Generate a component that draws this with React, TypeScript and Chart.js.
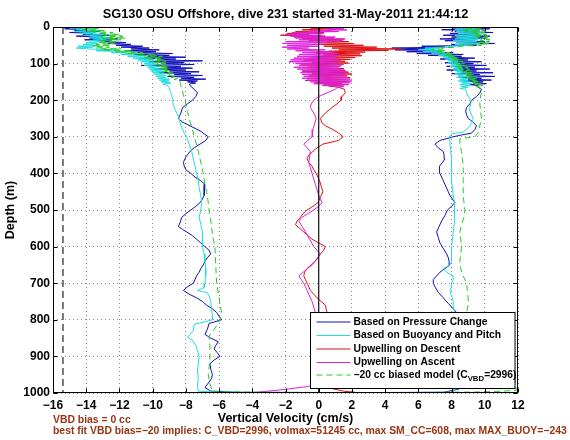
import React, { useEffect, useRef } from 'react';
import { Chart, registerables } from 'chart.js';
Chart.register(...registerables);

type P = [number, number]; // [depth (m), vertical velocity (cm/s)]

const titleText = 'SG130 OSU Offshore, dive 231 started 31-May-2011 21:44:12';
const xAxisTitle = 'Vertical Velocity (cm/s)';
const yAxisTitle = 'Depth (m)';
const noteLines = [
  'VBD bias = 0 cc',
  'best fit VBD bias=\u221220 implies: C_VBD=2996, volmax=51245 cc, max SM_CC=608, max MAX_BUOY=\u2212243',
];
const velocityRange = [-16, 12];
const velocityStep = 2;
const depthRange = [0, 1000];
const depthStep = 100;
const biasLineVelocity = -15.4;
const zeroLineVelocity = 0;

const legendLabels = [
  'Based on Pressure Change',
  'Based on Buoyancy and Pitch',
  'Upwelling on Descent',
  'Upwelling on Ascent',
];
const modelLegendParts = ['\u221220 cc biased model (C', 'VBD', '=2996)'];

const pressureChange: P[] = [
  [0.5,-15.9],[2.5,-13.8],[5,-15.3],[7.5,-14.0],[10,-14.7],[12.5,-13.2],[15,-15.0],[17.5,-13.6],[20,-14.2],[22.5,-12.6],[25,-14.6],[27.5,-13.1],[30,-13.8],[32.5,-12.1],[35,-14.1],[37.5,-12.5],[40,-13.1],[42.5,-11.6],[45,-12.7],[47.5,-11.3],[50,-12.2],[52.5,-10.6],[55,-11.9],[57.5,-10.2],[60,-11.3],[62.5,-9.6],[65,-11.6],[67.5,-9.8],[70,-10.9],[72.5,-8.8],[75,-11.1],[77.5,-9.0],[80,-10.3],[82.5,-8.0],[85,-10.8],[87.5,-8.6],[90,-9.7],[92.5,-7.0],[95,-10.2],[97.5,-8.1],[100,-9.4],[102.5,-7.5],[105,-10.7],[107.5,-8.3],[110,-9.2],[112.5,-7.6],[115,-9.9],[117.5,-8.0],[120,-9.0],[122.5,-7.2],[125,-9.6],[127.5,-7.7],[130,-8.7],[132.5,-7.0],[135,-9.1],[137.5,-7.5],[140,-8.3],[142.5,-6.8],[145,-8.4],[147.5,-7.3],[150,-7.9],[153,-7.4],[156,-7.8],[160,-7.75],
  [170,-7.5],[180,-7.3],[190,-7.4],[200,-7.6],[210,-7.9],[220,-8.2],[235,-8.3],[250,-8.45],[260,-8.2],[270,-7.75],[285,-7.1],[300,-6.65],[310,-6.8],[320,-7.15],[330,-7.5],[340,-7.75],[355,-8.0],[370,-8.15],[380,-8.1],[390,-8.0],[400,-7.7],[410,-7.45],[420,-7.1],[430,-6.85],[445,-6.9],[460,-6.9],[470,-7.0],[480,-7.15],[490,-7.4],[500,-7.7],[510,-8.0],[520,-8.25],[535,-8.35],[545,-8.45],[553,-8.2],[560,-7.95],[570,-7.6],[580,-7.35],[590,-7.1],[600,-6.85],[610,-6.6],[620,-6.5],[630,-6.7],[640,-6.85],[650,-6.95],[660,-7.1],[670,-7.2],[680,-7.35],[690,-7.45],[700,-7.55],[710,-7.9],[720,-8.15],[730,-7.8],[740,-7.35],[750,-7.0],[760,-6.75],[770,-6.4],[780,-6.15],[790,-6.0],[800,-5.85],[810,-6.6],[825,-6.7],[840,-6.85],[850,-6.5],[860,-6.05],[870,-6.2],[880,-6.3],[890,-6.1],[900,-5.95],[910,-6.3],[920,-6.55],[935,-6.5],[950,-6.4],[960,-6.45],[970,-6.6],[985,-6.85],[995,-6.5],
  [998,-5.0],[999,2.0],[998,7.5],[990,8.4],[970,8.5],[940,8.3],[900,8.1],[860,7.8],[820,8.2],[800,8.4],[790,8.35],
  [780,8.3],[770,8.1],[755,7.8],[740,7.5],[725,7.2],[710,7.0],[700,6.9],[690,6.9],[680,7.1],[670,7.3],[660,7.6],[650,7.9],[640,7.85],[630,7.8],[620,7.7],[605,7.5],[590,7.3],[575,7.2],[560,7.1],[545,7.25],[530,7.4],[515,7.6],[500,7.75],[490,8.0],[480,8.2],[470,8.05],[460,7.9],[450,7.8],[440,7.7],[430,7.6],[420,7.5],[410,7.4],[400,7.3],[390,7.25],[380,7.3],[370,7.45],[360,7.6],[350,7.55],[340,7.5],[330,7.2],[320,7.0],[310,7.3],[300,8.1],[295,8.6],[290,9.2],[280,9.4],[270,9.5],[260,9.3],[250,9.0],[240,8.9],[230,8.85],[220,8.9],[210,9.1],[200,9.2],[190,9.5],[180,9.7],[170,9.8],[165,9.6],
  [160,9.6],[157.5,9.1],[155,10.1],[152.5,9.3],[150,9.9],[147.5,8.7],[145,10.4],[142.5,9.0],[140,9.8],[137.5,8.4],[135,10.6],[132.5,8.9],[130,9.7],[127.5,8.0],[125,10.5],[122.5,8.6],[120,9.5],[117.5,7.7],[115,10.3],[112.5,8.3],[110,9.4],[107.5,7.7],[105,10.1],[102.5,8.4],[100,9.3],[97.5,7.6],[95,9.8],[92.5,8.0],[90,9.0],[87.5,7.3],[85,9.4],[82.5,7.8],[80,8.6],[77.5,6.6],[75,8.7],[72.5,5.9],[70,8.1],[67.5,5.3],[65,7.4],[62.5,4.6],[60,6.8],[57.5,4.4],[55,7.6],[52.5,6.2],[50,9.5],[47.5,8.0],[45,10.6],[42.5,8.3],[40,10.0],[37.5,7.6],[35,9.4],[32.5,7.3],[30,10.1],[27.5,8.0],[25,10.3],[22.5,7.5],[20,9.6],[17.5,7.9],[15,10.5],[12.5,8.2],[10,9.7],[7.5,7.4],[5,10.3],[2.5,8.0],[0,9.0],
];

const buoyancyPitch: P[] = [
  [0,-13.5],[2.5,-15.0],[5,-13.6],[7.5,-14.6],[10,-13.2],[12.5,-14.7],[15,-13.4],[17.5,-14.3],[20,-12.7],[22.5,-14.1],[25,-13.0],[27.5,-13.8],[30,-12.4],[32.5,-13.6],[35,-12.8],[37.5,-13.8],[40,-12.9],[42.5,-14.0],[45,-13.3],[47.5,-14.2],[50,-13.2],[52.5,-14.5],[55,-13.6],[57.5,-14.6],[60,-13.8],[62.5,-12.2],[65,-13.4],[67.5,-11.4],[70,-12.5],[72.5,-10.9],[75,-11.9],[77.5,-10.6],[80,-11.5],[82.5,-10.3],[85,-11.2],[87.5,-10.0],[90,-10.9],[92.5,-9.9],[95,-10.7],[97.5,-9.8],[100,-10.5],[102.5,-9.7],[105,-10.5],[107.5,-9.6],[110,-10.3],[112.5,-9.6],[115,-10.2],[117.5,-9.4],[120,-10.1],[122.5,-9.3],[125,-10.0],[127.5,-9.3],[130,-9.9],[132.5,-9.2],[135,-9.8],[137.5,-9.2],[140,-9.7],[142.5,-9.0],[145,-9.6],[147.5,-9.0],[150,-9.5],[153,-8.9],[156,-9.4],[160,-9.1],[165,-9.0],
  [175,-8.95],[185,-8.85],[200,-8.8],[215,-8.75],[230,-8.6],[250,-8.4],[270,-8.3],[290,-8.1],[300,-7.95],[320,-7.8],[340,-7.65],[350,-7.6],[370,-7.5],[390,-7.4],[400,-7.35],[420,-7.25],[440,-7.2],[460,-7.1],[480,-7.05],[500,-7.1],[520,-7.2],[540,-7.1],[560,-7.0],[580,-7.0],[600,-7.0],[620,-6.9],[640,-6.85],[660,-6.8],[680,-6.8],[700,-6.85],[712,-6.9],[720,-7.3],[726,-6.7],[735,-6.6],[750,-6.5],[770,-6.45],[790,-6.4],[800,-6.4],[806,-6.9],[812,-7.5],[830,-7.55],[840,-7.75],[848,-7.9],[856,-7.6],[870,-7.4],[885,-7.3],[900,-7.2],[920,-7.25],[940,-7.3],[960,-7.25],[980,-7.3],[995,-7.25],
  [998,-6.0],[999,3.0],[998,8.0],[990,8.3],[950,8.4],[900,8.3],[850,8.0],[800,8.2],[790,8.2],
  [780,8.2],[765,8.1],[750,8.1],[735,8.0],[720,7.9],[710,8.0],[700,8.0],[690,8.1],[680,8.1],[670,7.7],[660,7.5],[650,7.9],[640,8.0],[620,8.0],[600,8.0],[580,8.05],[560,8.1],[540,8.15],[520,8.2],[500,8.2],[480,8.15],[460,8.1],[440,8.05],[420,8.0],[400,8.0],[380,8.0],[360,8.0],[340,7.95],[320,7.9],[300,7.9],[292,8.0],[287,8.7],[280,8.9],[270,9.1],[260,9.25],[250,9.3],[240,9.2],[230,9.1],[220,9.1],[210,9.15],[200,9.2],[190,9.0],[180,8.9],
  [170,8.85],[167.5,8.5],[165,9.0],[162.5,8.6],[160,9.1],[157.5,8.5],[155,9.2],[152.5,8.6],[150,9.1],[147.5,8.4],[145,9.0],[142.5,8.5],[140,9.0],[137.5,8.3],[135,8.9],[132.5,8.4],[130,8.9],[127.5,8.2],[125,8.8],[122.5,8.3],[120,8.7],[117.5,8.1],[115,8.7],[112.5,8.1],[110,8.6],[107.5,7.9],[105,8.6],[102.5,8.0],[100,8.5],[97.5,7.8],[95,8.4],[92.5,7.8],[90,8.4],[87.5,7.6],[85,8.3],[82.5,7.5],[80,8.1],[77.5,7.2],[75,7.9],[72.5,6.8],[70,7.6],[67.5,6.3],[65,7.4],[62.5,6.0],[60,7.2],[57.5,6.4],[55,8.0],[52.5,7.8],[50,9.2],[47.5,8.2],[45,9.7],[42.5,8.3],[40,9.5],[37.5,8.1],[35,9.6],[32.5,8.2],[30,9.6],[27.5,8.3],[25,9.7],[22.5,8.2],[20,9.8],[17.5,8.4],[15,9.8],[12.5,8.3],[10,9.7],[7.5,8.2],[5,9.6],[2.5,8.3],[0,8.8],
];

const upwellingDescent: P[] = [
  [0,6.0],[1.5,1.5],[3,-0.5],[5,0.9],[7.5,-1.0],[10,0.7],[12.5,-1.4],[15,0.3],[17.5,-1.9],[20,-0.6],[22.5,-2.3],[25,0.4],[27.5,-1.5],[30,0.9],[32.5,-1.0],[35,1.5],[37.5,-0.6],[40,1.8],[42.5,-0.3],[45,2.1],[47.5,0.0],[50,2.7],[52.5,0.3],[55,3.5],[57.5,0.8],[60,5.0],[62.5,1.2],[64,4.2],[66,0.6],[68.5,2.8],[71,-0.2],[73.5,2.5],[76,0.3],[78.5,2.6],[81,-0.4],[83.5,2.2],[86,-0.6],[88.5,1.9],[91,-0.9],[93.5,1.6],[96,-0.4],[98.5,1.8],[101,-1.1],[103.5,1.4],[106,-0.7],[108.5,1.2],[111,-0.9],[113.5,1.5],[116,-0.5],[118.5,1.6],[121,-1.0],[123.5,1.8],[126,-0.4],[128.5,2.0],[131,-0.6],[133.5,1.7],[136,-0.7],[138.5,1.9],[141,-0.3],[143.5,1.6],[146,-0.8],[148.5,1.8],[151,-0.2],[153.5,1.4],[156,0.3],[158.5,1.5],[161,0.6],[165,1.2],
  [170,1.55],[180,1.6],[190,1.4],[200,1.35],[210,1.1],[220,0.8],[235,0.4],[250,0.1],[262,0.2],[270,0.4],[280,0.85],[290,1.2],[300,1.47],[310,1.2],[320,0.25],[330,-0.1],[340,-0.35],[350,-0.6],[360,-0.7],[370,-0.6],[380,-0.4],[390,-0.3],[400,-0.15],[410,-0.05],[420,0.05],[435,0.15],[450,0.25],[465,0.1],[480,-0.05],[490,-0.35],[500,-0.7],[510,-0.95],[520,-1.1],[530,-1.3],[540,-1.4],[550,-1.15],[560,-0.9],[570,-0.65],[580,-0.4],[590,0.0],[600,0.4],[610,0.3],[620,0.1],[630,-0.05],[640,-0.2],[650,-0.45],[660,-0.7],[670,-0.85],[680,-0.9],[690,-0.8],[700,-0.7],[710,-0.6],[720,-0.5],[730,-0.3],[740,-0.1],[750,0.15],[760,0.4],[770,0.45],[780,0.5],[790,0.3],[800,0.0],[850,0.2],[900,0.1],[950,0.3],[985,0.5],[995,1.5],[998,2.2],
];

const upwellingAscent: P[] = [
  [0,2.5],[2,0.2],[4,1.5],[6,0.5],[8,1.7],[10,-0.5],[12.5,1.2],[15,-1.6],[17.5,0.3],[20,-2.0],[22.5,0.2],[25,-1.7],[27.5,1.0],[30,-1.4],[32.5,1.6],[35,-1.2],[37.5,1.4],[40,-2.0],[42.5,0.5],[45,-2.2],[47.5,0.2],[50,-1.9],[52.5,0.0],[55,-2.2],[57.5,-0.6],[60,-1.9],[62.5,0.4],[65,-1.4],[67.5,0.9],[70,-1.0],[72.5,1.1],[75,-1.2],[77.5,1.3],[80,-1.3],[82.5,1.0],[85,-1.5],[87.5,1.2],[90,-1.7],[92.5,1.3],[95,-1.8],[97.5,1.1],[100,-1.4],[102.5,1.5],[105,-1.2],[107.5,1.3],[110,-1.5],[112.5,1.2],[115,-1.3],[117.5,1.5],[120,-1.0],[122.5,1.7],[125,-1.1],[127.5,1.5],[130,-1.0],[132.5,1.7],[135,-0.9],[137.5,1.8],[140,-1.0],[142.5,1.9],[145,-0.7],[147.5,2.0],[150,-0.5],[152.5,1.9],[155,-0.3],[157.5,1.8],[160,0.2],[162.5,1.5],[166,1.1],
  [170,1.0],[180,0.5],[190,0.0],[200,-0.3],[210,-0.45],[220,-0.5],[235,-0.3],[250,-0.15],[265,-0.25],[280,-0.35],[290,-0.38],[300,-0.4],[310,-0.65],[320,-0.9],[330,-0.7],[340,-0.5],[355,-0.55],[370,-0.6],[385,-0.5],[400,-0.4],[415,-0.3],[430,-0.2],[445,-0.1],[460,0.0],[470,0.1],[480,0.2],[490,0.0],[500,-0.3],[510,-0.65],[520,-1.0],[530,-1.2],[545,-1.0],[560,-0.8],[580,-0.55],[600,-0.3],[610,-0.1],[620,0.1],[635,-0.15],[650,-0.4],[665,-0.8],[680,-1.2],[690,-1.05],[700,-0.9],[710,-0.8],[720,-0.7],[735,-0.55],[750,-0.4],[765,-0.3],[780,-0.2],[800,-0.1],[850,0.1],[900,0.0],[950,0.2],[975,-0.3],[982,-0.6],[990,-2.0],[998,-3.7],
];

const biasedModel: P[] = [
  [0,-13.0],[2.5,-14.5],[5,-13.2],[7.5,-14.2],[10,-12.9],[12.5,-13.8],[15,-12.4],[17.5,-13.3],[20,-12.0],[22.5,-12.9],[25,-11.8],[27.5,-13.1],[30,-11.6],[32.5,-13.0],[35,-11.9],[37.5,-13.1],[40,-12.1],[42.5,-13.3],[45,-12.3],[47.5,-13.4],[50,-12.5],[52.5,-13.6],[55,-12.6],[57.5,-13.4],[60,-11.9],[62.5,-13.0],[65,-11.2],[67.5,-12.2],[70,-10.6],[72.5,-11.6],[75,-9.8],[77.5,-10.9],[80,-9.4],[82.5,-10.5],[85,-9.4],[87.5,-10.2],[90,-9.3],[92.5,-10.0],[95,-9.2],[97.5,-9.9],[100,-9.2],[102.5,-9.8],[105,-9.1],[107.5,-9.7],[110,-9.0],[112.5,-9.6],[115,-9.0],[117.5,-9.5],[120,-8.9],[122.5,-9.4],[125,-8.8],[127.5,-9.2],[130,-8.8],[132.5,-9.0],[135,-8.6],[137.5,-8.9],[140,-8.5],[143,-8.7],[146,-8.4],[150,-8.35],
  [170,-8.25],[200,-8.05],[230,-7.9],[250,-7.8],[280,-7.6],[300,-7.5],[330,-7.3],[350,-7.2],[380,-7.05],[400,-6.95],[430,-6.85],[450,-6.75],[480,-6.65],[500,-6.6],[530,-6.5],[550,-6.45],[580,-6.35],[600,-6.25],[650,-6.2],[700,-6.15],[740,-6.0],[780,-5.85],[800,-5.95],[820,-6.2],[845,-6.6],[870,-6.55],[900,-6.55],[930,-6.6],[950,-6.65],[975,-6.55],[995,-6.4],
  [998,-4.0],[999,5.0],[997,10.0],[993,11.9],[970,11.85],[940,11.7],[900,10.6],[850,9.6],[800,9.0],
  [780,8.9],[760,9.0],[740,9.0],[720,8.95],[700,8.9],[680,8.7],[660,8.55],[640,8.5],[620,8.55],[600,8.6],[580,8.55],[560,8.5],[540,8.6],[520,8.75],[500,8.8],[480,8.75],[460,8.7],[440,8.7],[420,8.7],[400,8.7],[380,8.7],[360,8.65],[340,8.6],[320,8.5],[305,8.5],[300,9.4],[290,9.6],[270,9.7],[250,9.8],[230,9.75],[210,9.7],[200,9.7],[180,9.8],
  [165,9.7],[162.5,9.4],[160,9.9],[157.5,9.4],[155,9.8],[152.5,9.2],[150,9.7],[147.5,9.1],[145,9.6],[142.5,9.0],[140,9.5],[137.5,8.9],[135,9.5],[132.5,8.8],[130,9.4],[127.5,8.7],[125,9.3],[122.5,8.6],[120,9.2],[117.5,8.5],[115,9.1],[112.5,8.4],[110,9.0],[107.5,8.3],[105,8.9],[102.5,8.3],[100,8.8],[97.5,8.2],[95,8.7],[92.5,8.1],[90,8.6],[87.5,8.0],[85,8.5],[82.5,7.8],[80,8.3],[77.5,7.6],[75,8.1],[72.5,7.3],[70,7.9],[67.5,7.0],[65,7.7],[62.5,6.8],[60,7.5],[57.5,7.2],[55,8.4],[52.5,8.5],[50,9.8],[47.5,9.3],[45,10.3],[42.5,9.6],[40,10.3],[37.5,9.7],[35,10.3],[32.5,9.7],[30,10.2],[27.5,9.5],[25,10.2],[22.5,9.3],[20,10.1],[17.5,9.1],[15,10.0],[12.5,8.8],[10,10.0],[7.5,8.6],[5,9.9],[2.5,8.9],[0,9.5],
];

const FONT = '"Liberation Sans", Arial, Helvetica, sans-serif';
const COLORS = {
  blue: '#1010b8',
  cyan: '#22dddd',
  red: '#dd1111',
  magenta: '#dd22dd',
  green: '#22cc22',
  note: '#993311',
};
const MODEL_DASH = [6, 4];

const toXY = (arr: P[]) => arr.map(([d, v]) => ({ x: v, y: d }));
const fmt = (v: number) => (v < 0 ? '\u2212' + Math.abs(v) : String(v));

const decorPlugin = {
  id: 'decor',
  beforeDraw(chart: any) {
    const { ctx, width, height } = chart;
    ctx.save();
    ctx.fillStyle = '#fff';
    ctx.fillRect(0, 0, width, height);
    ctx.restore();
  },
  afterDraw(chart: any) {
    const { ctx, chartArea: a, scales } = chart;
    const xs = scales.x;
    const ys = scales.y;
    ctx.save();
    const L = Math.round(a.left) + 0.5;
    const R = Math.round(a.right) - 0.5;
    const T = Math.round(a.top) + 0.5;
    const B = Math.round(a.bottom) - 0.5;
    ctx.strokeStyle = '#000';
    ctx.lineWidth = 1;
    ctx.setLineDash([]);
    ctx.strokeRect(L, T, R - L, B - T);
    ctx.beginPath();
    xs.ticks.forEach((t: any) => {
      const px = Math.round(xs.getPixelForValue(t.value)) + 0.5;
      ctx.moveTo(px, B); ctx.lineTo(px, B - 4);
      ctx.moveTo(px, T); ctx.lineTo(px, T + 4);
    });
    ys.ticks.forEach((t: any) => {
      const py = Math.round(ys.getPixelForValue(t.value)) + 0.5;
      ctx.moveTo(L, py); ctx.lineTo(L + 4, py);
      ctx.moveTo(R, py); ctx.lineTo(R - 4, py);
    });
    ctx.stroke();

    const cx = (a.left + a.right) / 2;
    const cy = (a.top + a.bottom) / 2;
    ctx.fillStyle = '#000';
    ctx.textBaseline = 'middle';
    ctx.font = `bold 12.8px ${FONT}`;
    ctx.textAlign = 'center';
    ctx.fillText(titleText, cx, 14);
    ctx.font = `bold 12.5px ${FONT}`;
    ctx.fillText(xAxisTitle, cx, a.bottom + 26);
    ctx.save();
    ctx.translate(11, cy);
    ctx.rotate(-Math.PI / 2);
    ctx.fillText(yAxisTitle, 0, 0);
    ctx.restore();
    ctx.fillStyle = COLORS.note;
    ctx.textAlign = 'left';
    ctx.font = `bold 10.4px ${FONT}`;
    ctx.fillText(noteLines[0], a.left, a.bottom + 27);
    ctx.fillText(noteLines[1], a.left, a.bottom + 38);

    // legend box
    const lx = 310.5;
    const lw = a.right - 3 - lx;
    const ly = 312.5;
    const lh = a.bottom - 4.5 - ly;
    ctx.fillStyle = '#fff';
    ctx.fillRect(lx, ly, lw, lh);
    ctx.strokeStyle = '#000';
    ctx.lineWidth = 1;
    ctx.strokeRect(lx, ly, lw, lh);
    const rowY = [322, 335.5, 349, 362.5, 375];
    const lineColors = [COLORS.blue, COLORS.cyan, COLORS.red, COLORS.magenta, COLORS.green];
    const LF = `bold 10.3px ${FONT}`;
    rowY.forEach((yy, i) => {
      ctx.beginPath();
      ctx.strokeStyle = lineColors[i];
      ctx.setLineDash(i === 4 ? MODEL_DASH : []);
      ctx.moveTo(lx + 6, yy);
      ctx.lineTo(lx + 40, yy);
      ctx.stroke();
      ctx.setLineDash([]);
      ctx.fillStyle = '#000';
      const tx = lx + 43;
      ctx.font = LF;
      if (i < 4) {
        ctx.fillText(legendLabels[i], tx, yy);
      } else {
        ctx.fillText(modelLegendParts[0], tx, yy);
        let w = ctx.measureText(modelLegendParts[0]).width;
        ctx.font = `bold 7.8px ${FONT}`;
        ctx.fillText(modelLegendParts[1], tx + w, yy + 4);
        w += ctx.measureText(modelLegendParts[1]).width;
        ctx.font = LF;
        ctx.fillText(modelLegendParts[2], tx + w, yy);
      }
    });
    ctx.restore();
  },
};

export default function App() {
  const ref = useRef<HTMLCanvasElement | null>(null);
  useEffect(() => {
    document.body.style.margin = '0';
    if (!ref.current) return;
    const line = (data: P[], color: string, order: number, dash?: number[]) => ({
      data: toXY(data),
      showLine: true,
      borderColor: color,
      backgroundColor: color,
      borderWidth: 1,
      borderDash: dash || [],
      pointRadius: 0,
      tension: 0,
      fill: false,
      order,
    });
    const chart = new Chart(ref.current, {
      type: 'scatter',
      data: {
        datasets: [
          line(pressureChange, COLORS.blue, 5),
          line(buoyancyPitch, COLORS.cyan, 4),
          line(upwellingDescent, COLORS.red, 3),
          line(upwellingAscent, COLORS.magenta, 2),
          line(biasedModel, COLORS.green, 1, MODEL_DASH),
          {
            ...line([[depthRange[0], biasLineVelocity], [depthRange[1], biasLineVelocity]], '#333', 0, [7, 4]),
            borderWidth: 1.3,
          },
          {
            ...line([[depthRange[0], zeroLineVelocity], [depthRange[1], zeroLineVelocity]], '#111', 0),
            borderWidth: 1.2,
          },
        ] as any,
      },
      options: {
        animation: false,
        responsive: false,
        maintainAspectRatio: false,
        layout: { padding: { top: 27, right: 52, left: 0, bottom: 0 } },
        plugins: {
          legend: { display: false },
          title: { display: false },
          tooltip: { enabled: false },
        },
        scales: {
          x: {
            type: 'linear',
            min: velocityRange[0],
            max: velocityRange[1],
            ticks: {
              stepSize: velocityStep,
              callback: (v: any) => fmt(Number(v)),
              font: { family: FONT, size: 12, weight: 'bold' },
              color: '#000',
              padding: 5,
              maxRotation: 0,
              autoSkip: false,
            },
            grid: { color: '#8a8a8a', drawTicks: false, lineWidth: 1 },
            border: { display: false, dash: [1, 3] },
            afterFit: (s: any) => { s.height = 47; },
          },
          y: {
            type: 'linear',
            reverse: true,
            min: depthRange[0],
            max: depthRange[1],
            ticks: {
              stepSize: depthStep,
              callback: (v: any) => String(v),
              font: { family: FONT, size: 12, weight: 'bold' },
              color: '#000',
              padding: 3,
              autoSkip: false,
            },
            grid: { color: '#8a8a8a', drawTicks: false, lineWidth: 1 },
            border: { display: false, dash: [1, 3] },
            afterFit: (s: any) => { s.width = 53; },
          },
        },
      } as any,
      plugins: [decorPlugin],
    });
    return () => chart.destroy();
  }, []);
  return <canvas ref={ref} width={570} height={440} style={{ display: 'block', width: 570, height: 440 }} />;
}
